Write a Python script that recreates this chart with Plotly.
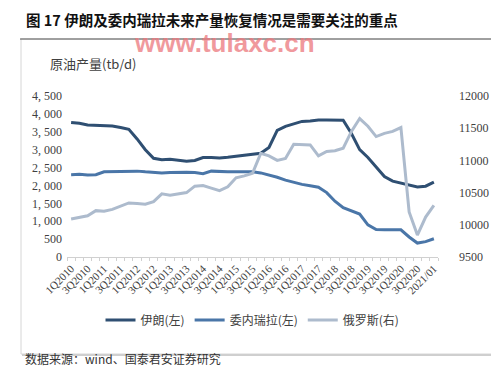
import plotly.graph_objects as go

# ---- data ----
categories = [f"{q}Q{y}" for y in range(2010, 2021) for q in range(1, 5)] + ["2021/01"]
tick_labels = [c if i % 2 == 0 else "" for i, c in enumerate(categories)]

iran = [3760, 3740, 3690, 3680, 3670, 3660, 3620, 3570, 3300, 3000,
        2760, 2720, 2730, 2700, 2680, 2700, 2780, 2780, 2770, 2790,
        2820, 2860, 2880, 2900, 3060, 3540, 3650, 3720, 3790, 3800,
        3830, 3830, 3820, 3820, 3450, 3000, 2780, 2500, 2250, 2120,
        2060, 2000, 1960, 1980, 2090]
venezuela = [2300, 2310, 2290, 2300, 2380, 2390, 2400, 2390, 2400, 2380,
             2360, 2350, 2360, 2370, 2370, 2360, 2330, 2400, 2380, 2380,
             2380, 2390, 2380, 2350, 2300, 2230, 2150, 2080, 2030, 1990,
             1950, 1800, 1560, 1380, 1280, 1200, 900, 770, 760, 760,
             760, 560, 390, 430, 510]
russia = [10090, 10110, 10140, 10220, 10210, 10240, 10290, 10340, 10330, 10320,
          10360, 10480, 10460, 10480, 10500, 10600, 10610, 10570, 10530, 10590,
          10730, 10760, 10800, 11110, 11070, 11000, 11030, 11250, 11250, 11240,
          11070, 11140, 11150, 11190, 11450, 11650, 11530, 11370, 11420, 11450,
          11510, 10200, 9840, 10120, 10300]

left_ticks = [0, 500, 1000, 1500, 2000, 2500, 3000, 3500, 4000, 4500]
left_tick_text = ["0", "500", "1, 000", "1, 500", "2, 000", "2, 500",
                  "3, 000", "3, 500", "4, 000", "4, 500"]
right_ticks = [9500, 10000, 10500, 11000, 11500, 12000]
right_tick_text = ["9500", "10000", "10500", "11000", "11500", "12000"]

names = ["伊朗(左)", "委内瑞拉(左)", "俄罗斯(右)"]
colors = ["#2F4F72", "#4A76A8", "#ADBBCD"]

W, H = 499, 370
def px(x):
    return x / W
def py(y):
    return 1 - y / H

fig = go.Figure()
fig.add_trace(go.Scatter(x=categories, y=iran, name=names[0], mode="lines",
                         line=dict(color=colors[0], width=3), yaxis="y"))
fig.add_trace(go.Scatter(x=categories, y=venezuela, name=names[1], mode="lines",
                         line=dict(color=colors[1], width=3), yaxis="y"))
fig.add_trace(go.Scatter(x=categories, y=russia, name=names[2], mode="lines",
                         line=dict(color=colors[2], width=3), yaxis="y2"))

serif = "Liberation Serif, Times New Roman, serif"
cjk = "Noto Sans CJK SC, sans-serif"

fig.update_layout(
    width=W, height=H,
    margin=dict(l=0, r=0, t=0, b=0),
    paper_bgcolor="white", plot_bgcolor="white",
    showlegend=True,
    legend=dict(orientation="h", x=0.49, xanchor="center", y=py(312), yanchor="middle",
                font=dict(family=cjk, size=12, color="#404040"),
                itemwidth=30, tracegroupgap=0, bgcolor="rgba(0,0,0,0)"),
    xaxis=dict(domain=[px(59), px(430)], type="category",
               range=[-0.5, len(categories) - 0.5],
               tickmode="array", tickvals=categories, ticktext=tick_labels,
               tickangle=-45, tickson="boundaries",
               ticks="outside", ticklen=3, tickcolor="#d0d0d0",
               showline=True, linecolor="#d0d0d0", linewidth=1,
               showgrid=False, zeroline=False, automargin=False,
               tickfont=dict(family=serif, size=11, color="#404040")),
    yaxis=dict(domain=[py(249), py(88)], range=[0, 4500],
               tickmode="array", tickvals=left_ticks, ticktext=left_tick_text,
               showgrid=False, zeroline=False, showline=False, ticks="",
               automargin=False, ticklabelstandoff=4,
               tickfont=dict(family=serif, size=12, color="#404040")),
    yaxis2=dict(overlaying="y", side="right", range=[9500, 12000],
                tickmode="array", tickvals=right_ticks, ticktext=right_tick_text,
                showgrid=False, zeroline=False, showline=False, ticks="",
                automargin=False, ticklabelstandoff=20,
                tickfont=dict(family=serif, size=12, color="#404040")),
    shapes=[
        dict(type="rect", xref="paper", yref="paper",
             x0=px(13), x1=px(490), y0=py(346), y1=py(31),
             line=dict(color="#d6d6d6", width=1), fillcolor="rgba(0,0,0,0)", layer="below"),
        dict(type="line", xref="paper", yref="paper",
             x0=px(12), x1=px(492), y0=py(31), y1=py(31),
             line=dict(color="#555555", width=1)),
        dict(type="line", xref="paper", yref="paper",
             x0=px(14), x1=px(491), y0=py(347), y1=py(347),
             line=dict(color="#cfcfcf", width=2)),
        dict(type="line", xref="paper", yref="paper",
             x0=px(491), x1=px(491), y0=py(347), y1=py(32),
             line=dict(color="#e6e6e6", width=2)),
    ],
    annotations=[
        dict(text="<b>图 17 伊朗及委内瑞拉未来产量恢复情况是需要关注的重点</b>",
             xref="paper", yref="paper", x=px(16), y=py(11), xanchor="left", yanchor="middle",
             showarrow=False, font=dict(family=cjk, size=14.5, color="#111111")),
        dict(text="<b>www.tulaxc.cn</b>", xref="paper", yref="paper",
             x=px(216), y=py(35), xanchor="center", yanchor="middle", showarrow=False,
             font=dict(family="Liberation Sans, Arial, sans-serif", size=26,
                       color="rgba(236,120,125,0.75)")),
        dict(text="原油产量(tb/d)", xref="paper", yref="paper",
             x=px(40), y=py(55), xanchor="left", yanchor="middle", showarrow=False,
             font=dict(family=cjk, size=13, color="#404040")),
        dict(text="数据来源：wind、国泰君安证券研究", xref="paper", yref="paper",
             x=px(15), y=py(350), xanchor="left", yanchor="middle", showarrow=False,
             font=dict(family=cjk, size=12, color="#333333")),
    ],
)

fig.write_html("out.html")
